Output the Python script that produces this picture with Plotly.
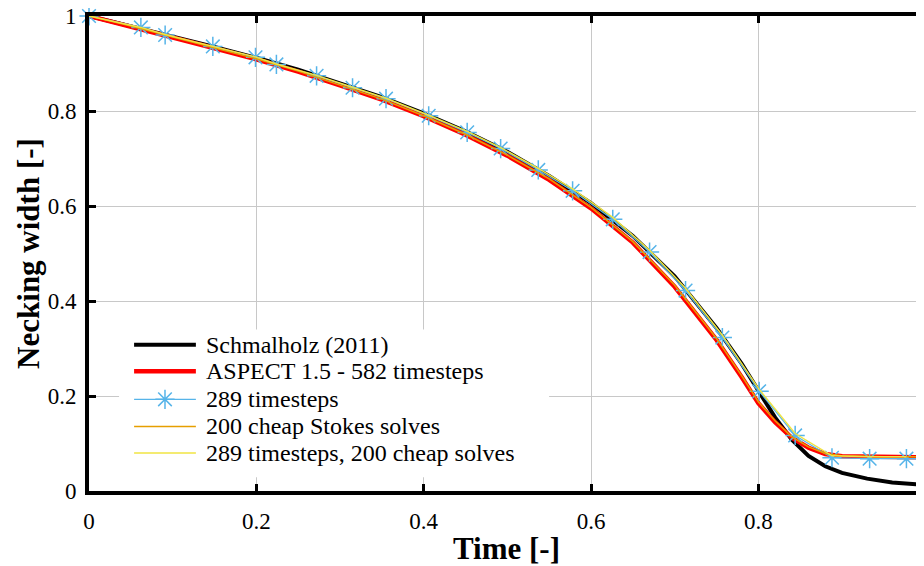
import plotly.graph_objects as go

# ---------------- data ----------------
t_ref = [0, 0.05, 0.1, 0.15, 0.2, 0.25, 0.3, 0.35, 0.4, 0.45, 0.5, 0.55, 0.6, 0.65,
         0.7, 0.75, 0.78, 0.8, 0.82, 0.84, 0.86, 0.88, 0.9, 0.93, 0.96, 1.0]
w_ref = [1, 0.979, 0.957, 0.935, 0.912, 0.887, 0.858, 0.829, 0.795, 0.757, 0.714, 0.663,
         0.606, 0.537, 0.452, 0.343, 0.268, 0.21, 0.155, 0.108, 0.074, 0.052, 0.038,
         0.026, 0.018, 0.013]

t_582 = [0, 0.05, 0.1, 0.15, 0.2, 0.25, 0.3, 0.35, 0.4, 0.45, 0.5, 0.55, 0.6, 0.65,
         0.7, 0.75, 0.78, 0.8, 0.82, 0.84, 0.86, 0.88, 0.9, 0.95, 1.0]
w_582 = [1, 0.978, 0.955, 0.932, 0.909, 0.883, 0.854, 0.824, 0.789, 0.750, 0.706, 0.655,
         0.595, 0.523, 0.430, 0.318, 0.240, 0.185, 0.145, 0.112, 0.091, 0.078, 0.073,
         0.071, 0.071]
w_cheap = [1, 0.979, 0.956, 0.933, 0.910, 0.884, 0.855, 0.825, 0.790, 0.751, 0.707, 0.657,
           0.597, 0.525, 0.433, 0.321, 0.243, 0.188, 0.148, 0.114, 0.093, 0.079, 0.074,
           0.072, 0.072]

t_289 = [0, 0.062, 0.091, 0.148, 0.199, 0.224, 0.272, 0.315, 0.355, 0.406, 0.452, 0.492,
         0.537, 0.578, 0.626, 0.670, 0.713, 0.757, 0.801, 0.844, 0.888, 0.933, 0.977]
w_289 = [1, 0.976, 0.960, 0.936, 0.913, 0.898, 0.874, 0.849, 0.826, 0.790, 0.755, 0.721,
         0.676, 0.632, 0.572, 0.503, 0.422, 0.323, 0.210, 0.117, 0.070, 0.068, 0.068]
w_289c = [1, 0.976, 0.961, 0.937, 0.914, 0.899, 0.875, 0.850, 0.827, 0.791, 0.757, 0.723,
          0.679, 0.636, 0.576, 0.507, 0.427, 0.328, 0.214, 0.121, 0.074, 0.072, 0.072]

names = ["Schmalholz (2011)", "ASPECT 1.5 - 582 timesteps", "289 timesteps",
         "200 cheap Stokes solves", "289 timesteps, 200 cheap solves"]
colors = ["#000000", "#ff0000", "#56b4e9", "#e69f00", "#f0e442"]
widths = [4, 4.5, 1.2, 1.5, 1.5]

x_ticks = [0, 0.2, 0.4, 0.6, 0.8]
y_ticks = [0, 0.2, 0.4, 0.6, 0.8, 1]

FONT = "'Liberation Serif', 'Times New Roman', Times, serif"

fig = go.Figure()
series = [(t_ref, w_ref), (t_582, w_582), (t_289, w_289), (t_582, w_cheap), (t_289, w_289c)]
for i, (xs, ys) in enumerate(series):
    tr = dict(x=xs, y=ys, name=names[i], mode="lines", showlegend=False,
              line=dict(color=colors[i], width=widths[i]))
    if i == 2:
        tr["mode"] = "lines+markers"
        tr["marker"] = dict(symbol="asterisk-open", size=16, color=colors[i],
                            line=dict(color=colors[i], width=1.5))
        tr["cliponaxis"] = False
    fig.add_trace(go.Scatter(**tr))

# ---------- legend (drawn on an overlay axis in plot fractions) ----------
leg_box_x = [0.036, 0.551, 0.551, 0.036, 0.036]
leg_box_y = [0.029, 0.029, 0.340, 0.340, 0.029]
leg_y = [0.308, 0.252, 0.193, 0.136, 0.080]
leg_x0, leg_x1, leg_txt = 0.054, 0.128, 0.1375

fig.add_trace(go.Scatter(x=leg_box_x, y=leg_box_y, xaxis="x3", yaxis="y3", mode="lines",
                         fill="toself", fillcolor="white", line=dict(width=0),
                         showlegend=False, hoverinfo="skip"))
for i in range(5):
    fig.add_trace(go.Scatter(x=[leg_x0, leg_x1], y=[leg_y[i], leg_y[i]], xaxis="x3",
                             yaxis="y3", mode="lines", showlegend=False, hoverinfo="skip",
                             line=dict(color=colors[i], width=widths[i])))
    fig.add_annotation(x=leg_txt, y=leg_y[i], xref="x3", yref="y3", text=names[i],
                       showarrow=False, xanchor="left", yanchor="middle",
                       font=dict(family=FONT, size=24, color="black"))
fig.add_trace(go.Scatter(x=[(leg_x0 + leg_x1) / 2], y=[leg_y[2]], xaxis="x3", yaxis="y3",
                         mode="markers", showlegend=False, hoverinfo="skip",
                         marker=dict(symbol="asterisk-open", size=16, color=colors[2],
                                     line=dict(color=colors[2], width=1.5))))

axis_common = dict(showline=True, linecolor="black", linewidth=4, ticks="inside",
                   ticklen=7, tickwidth=3, tickcolor="black", mirror="ticks",
                   showgrid=True, gridcolor="#c8c8c8", gridwidth=1.2, zeroline=False,
                   automargin=False, ticklabeloverflow="allow",
                   tickfont=dict(family=FONT, size=23, color="black"))

# the page body adds an 8px offset; margins compensate for it
fig.update_layout(
    width=924, height=566,
    margin=dict(l=81, r=8, t=8, b=83),
    paper_bgcolor="white", plot_bgcolor="white",
    showlegend=False,
    font=dict(family=FONT),
    xaxis=dict(range=[0, 0.998], tickvals=x_ticks, ticklabelstandoff=6,
               title=dict(text="<b>Time [-]</b>", standoff=6,
                          font=dict(family=FONT, size=31, color="black")),
               **axis_common),
    yaxis=dict(range=[0, 1], tickvals=y_ticks, ticklabelstandoff=4,
               title=dict(text="<b>Necking width [-]</b>", standoff=0,
                          font=dict(family=FONT, size=31, color="black")),
               **axis_common),
    xaxis3=dict(overlaying="x", range=[0, 1], visible=False, fixedrange=True),
    yaxis3=dict(overlaying="y", range=[0, 1], visible=False, fixedrange=True),
)

fig.write_html("out.html")
